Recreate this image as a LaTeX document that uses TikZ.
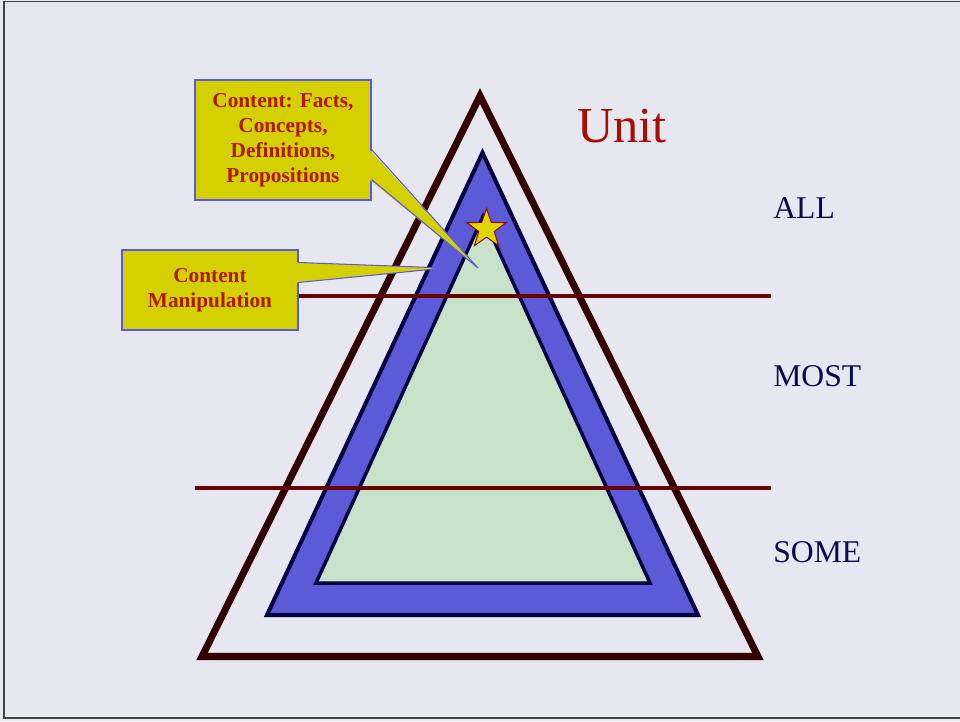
\documentclass[tikz,border=0pt]{standalone}
\usepackage{fontspec}
\setmainfont{Liberation Serif}
\usetikzlibrary{calc,shapes.geometric}
\definecolor{slidebg}{HTML}{E7E7F1}
\definecolor{unitred}{HTML}{A51000}
\definecolor{levelnavy}{HTML}{0A0A4A}
\definecolor{outerbrown}{HTML}{330000}
\definecolor{bandblue}{HTML}{5C5AD6}
\definecolor{bandnavy}{HTML}{000040}
\definecolor{coregreen}{HTML}{C8E2CA}
\definecolor{cutred}{HTML}{660000}
\definecolor{noteyellow}{HTML}{D4D000}
\definecolor{noteedge}{HTML}{5A5AE0}
\definecolor{notetext}{HTML}{B01800}
\definecolor{staryellow}{HTML}{E2D400}
\definecolor{stardark}{HTML}{8A1000}
\tikzset{notebox/.style={draw=noteedge,line width=0.6pt,fill=noteyellow,align=center,font=\bfseries\fontsize{12.1}{14.2}\selectfont,text=notetext,minimum width=3.52cm,inner sep=0pt},notetip/.style={fill=noteyellow},notetipline/.style={draw=noteedge,line width=0.6pt},levellabel/.style={font=\fontsize{18}{20}\selectfont,text=levelnavy,anchor=base west,inner sep=0pt},cutline/.style={draw=cutred,line width=2pt}}

\begin{document}
\begin{tikzpicture}[x=0.02cm,y=-0.02cm]
\fill[slidebg] (0,0) rectangle (960,721);
\useasboundingbox (0,0) rectangle (960,721);
\draw[black!75,line width=0.7pt] (960,1.5) -- (4,1.5) -- (4,718) -- (960,718);
% the three triangles
\draw[outerbrown,line width=4pt,line join=miter] (480,96) -- (758,656.5) -- (202,656.5) -- cycle;
\draw[bandnavy,fill=bandblue,line width=2.3pt,line join=miter] (482.5,152.7) -- (698,615) -- (267,615) -- cycle;
\draw[bandnavy,fill=coregreen,line width=2pt,line join=miter] (483,216.5) -- (650,583) -- (316,583) -- cycle;
\node[star,star points=5,star point ratio=2.5,minimum size=0.82cm,inner sep=0pt,fill=staryellow,draw=stardark,line width=0.6pt] (st) at (486.5,229) {};
% level cuts
\draw[cutline] (298,296) -- (771,296);
\draw[cutline] (195,488) -- (771,488);
\node[font=\fontsize{28.7}{30}\selectfont,text=unitred,anchor=base west,inner sep=0pt] (unit) at (577,142) {Unit};
\node[levellabel] (all) at (773,218) {ALL};
\node[levellabel] (most) at (773,386) {MOST};
\node[levellabel] (some) at (773,562) {SOME};
% callouts
\coordinate (t1) at (478,268);
\coordinate (t2) at (445,268);
\node[notebox,minimum height=2.4cm] (c1) at (283,140) {Content: Facts,\\Concepts,\\Definitions,\\Propositions};
\fill[notetip] ($(c1.north east)+(-2,70)$) -- (t1) -- ($(c1.north east)+(-2,100)$) -- cycle;
\draw[notetipline] ($(c1.north east)+(0,70)$) -- (t1) -- ($(c1.north east)+(0,100)$);
\node[notebox,minimum height=1.6cm] (c2) at (210,290) {Content\\Manipulation};
\fill[notetip] ($(c2.north east)+(-2,13)$) -- (t2) -- ($(c2.north east)+(-2,33)$) -- cycle;
\draw[notetipline] ($(c2.north east)+(0,13)$) -- (t2) -- ($(c2.north east)+(0,33)$);
\end{tikzpicture}
\end{document}
